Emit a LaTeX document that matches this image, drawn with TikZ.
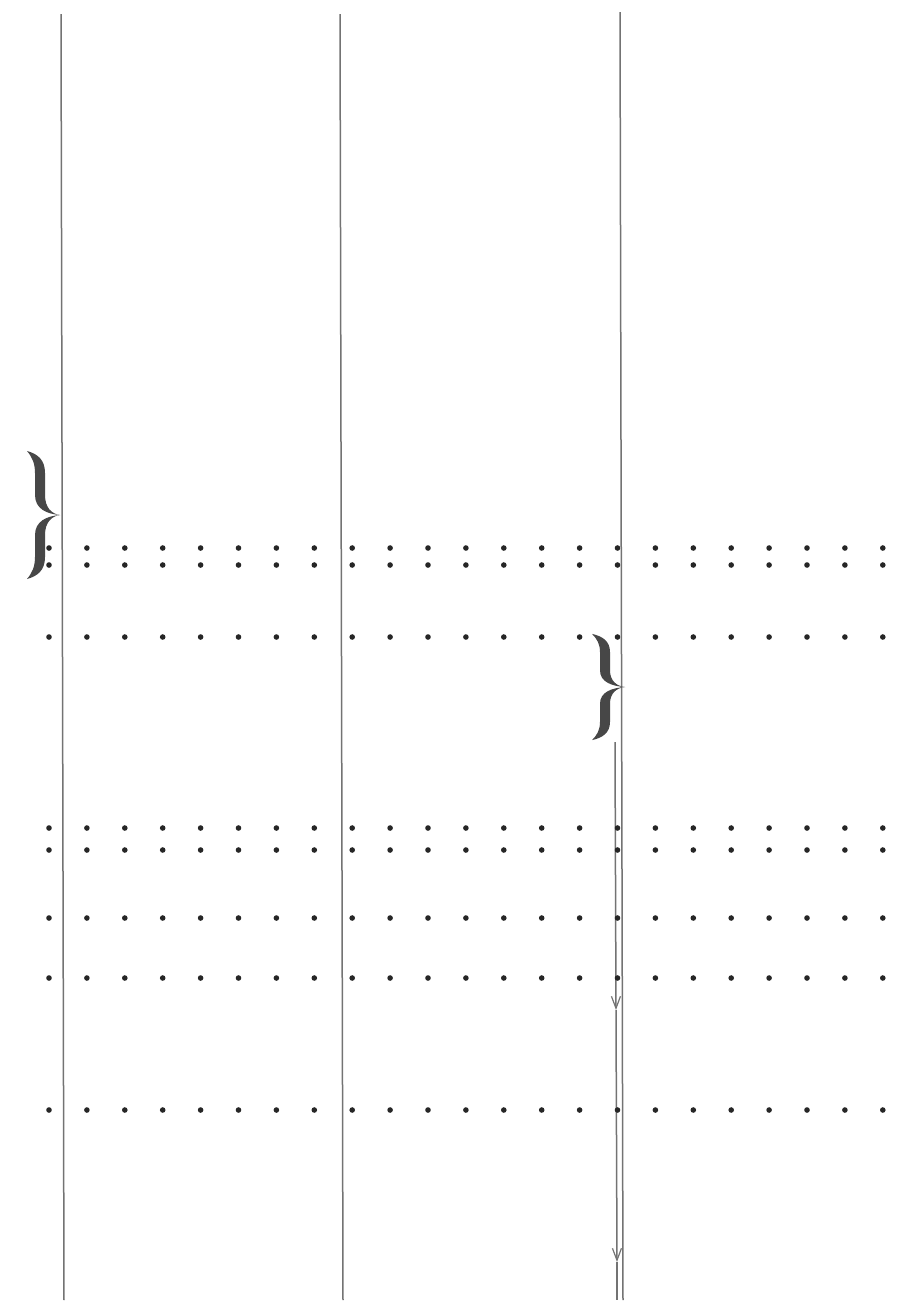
\documentclass[tikz,border=0pt]{standalone}
\usetikzlibrary{arrows.meta}
\begin{document}
\begin{tikzpicture}[x=0.5pt,y=-0.5pt,
  rule/.style={draw=black!55, line width=0.75pt},
  dot/.style={fill=black!85},
  bracefill/.style={fill=black!72},
  barb/.style={-{Straight Barb[length=6pt,width=4.5pt,line width=0.6pt]}},
  curly/.pic={
    \foreach \s in {1,-1}{
      \begin{scope}[yscale=\s]
        \fill[bracefill] (0,0) .. controls (-8,-1) and (-15,-7) .. (-15,-20)
          -- (-15,-42) .. controls (-15,-55) and (-22,-61) .. (-33,-64)
          .. controls (-28,-58) and (-25,-52) .. (-25,-42)
          -- (-25,-20) .. controls (-25,-6) and (-13,-1) .. (0,0) -- cycle;
      \end{scope}}
  }]
\useasboundingbox[fill=white] (0,0) rectangle (898,1303);
% vertical rules
\coordinate (L1t) at (61,14);  \coordinate (L1b) at (64,1300);
\coordinate (L2t) at (340,14); \coordinate (L2b) at (343,1300);
\coordinate (L3t) at (620,12); \coordinate (L3b) at (623,1300);
\coordinate (L4t) at (615,742); \coordinate (A1) at (616,1010);
\coordinate (A2) at (617,1262); \coordinate (L4b) at (617,1300);
\draw[rule] (L1t) -- (L1b);
\draw[rule] (L2t) -- (L2b);
\draw[rule] (L3t) -- (L3b);
\draw[rule,barb] (L4t) -- (A1);
\draw[rule,barb] (A1) -- (A2);
\draw[rule] (A2) -- (L4b);
% dot rows
\foreach \y in {548,565,637,828,850,918,978,1110}{
  \foreach \i in {0,...,22}{
    \fill[dot] ({49+37.9*\i},\y) circle (1.4pt);
  }
}
% braces
\pic at (60,515) {curly};
\pic[yscale=0.83] at (625,687) {curly};
\end{tikzpicture}
\end{document}
